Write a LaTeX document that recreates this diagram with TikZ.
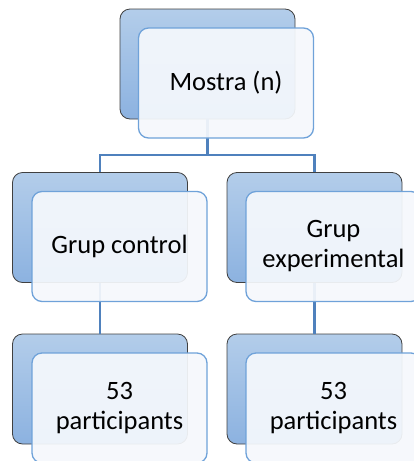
\documentclass[tikz,border=0pt]{standalone}
\usepackage{fontspec}
\setmainfont{Carlito}
\begin{document}
\begin{tikzpicture}[x=1pt,y=-1pt,
  backbox/.style={draw=black!75,line width=0.8pt,rounded corners=10pt,
    top color=btop,bottom color=bbot,
    minimum width=175pt,minimum height=110pt,inner sep=0pt},
  frontbox/.style={draw=fcol,line width=1.3pt,rounded corners=10pt,
    fill=ffill,fill opacity=0.93,text opacity=1,
    minimum width=175pt,minimum height=110pt,inner sep=0pt,
    align=center,font=\fontsize{26.5}{30}\selectfont},
  conn/.style={draw=ccol,line width=2.4pt}]
\definecolor{btop}{HTML}{B3CDEA}
\definecolor{bbot}{HTML}{8CB2E0}
\definecolor{fcol}{HTML}{6FA2D9}
\definecolor{ffill}{HTML}{F5F8FC}
\definecolor{ccol}{HTML}{4F81BD}
\useasboundingbox (0,0) rectangle (414,461);
\clip (0,0) rectangle (414,461);
% back boxes
\node[backbox] (mb) at (207.5,64) {};
\node[backbox] (lb) at (100,227.5) {};
\node[backbox] (rb) at (314.5,227.5) {};
\node[backbox] (lbb) at (100,389) {};
\node[backbox] (rbb) at (314.5,389) {};
% connectors
\coordinate (j) at (207.5,155);
\draw[conn] (mb.south) -- (j) -| (lb.north);
\draw[conn] (j) -| (rb.north);
\draw[conn] (lb.south) -- (lbb.north);
\draw[conn] (rb.south) -- (rbb.north);
% front boxes
\node[frontbox] (mf) at (226,83) {Mostra (n)};
\node[frontbox] (lf) at (119.5,246.5) {Grup control};
\node[frontbox] (rf) at (333.5,246.5) {Grup\\experimental};
\node[frontbox] (lff) at (119.5,408) {53\\participants};
\node[frontbox] (rff) at (333.5,408) {53\\participants};
\end{tikzpicture}
\end{document}
